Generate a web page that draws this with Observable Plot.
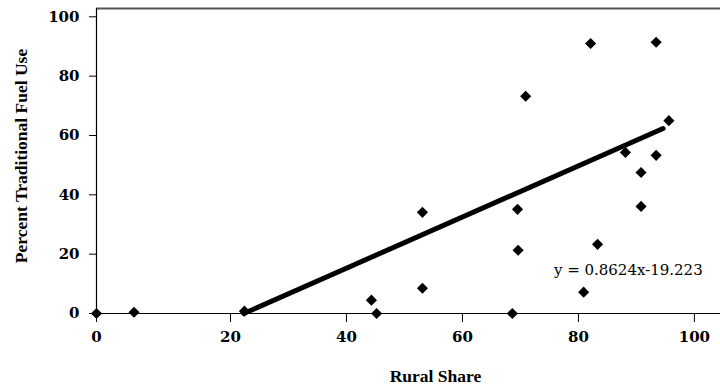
<!DOCTYPE html>
<html><head><meta charset="utf-8">
<script src="https://cdn.jsdelivr.net/npm/d3@7"></script>
<script src="https://cdn.jsdelivr.net/npm/@observablehq/plot@0.6"></script>
<style>body{margin:0;background:#fff}</style>
</head><body><div id="chart"></div>
<script>
const ruralShare      = [0, 5.6, 22.4, 44.3, 45.2, 53.1, 53.1, 68.6, 69.5, 69.6, 70.9, 80.9, 82.1, 83.3, 88.1, 90.8, 90.8, 93.4, 93.4, 95.6];
const traditionalFuel = [0, 0.4, 0.8, 4.5, 0, 34.1, 8.5, 0, 35.1, 21.3, 73.2, 7.2, 91.0, 23.3, 54.3, 47.5, 36.1, 91.4, 53.3, 65.0];
const xTicks = [0, 20, 40, 60, 80, 100];
const yTicks = [0, 20, 40, 60, 80, 100];
const slope = 0.8624, intercept = -19.223;
const trendEndX = 94.6;
const equationLabel = "y = 0.8624x-19.223";
const equationPos = {x: 88.6, y: 14.6};
const xTitle = "Rural Share";
const yTitle = "Percent Traditional Fuel Use";
const yTop = 102.8;

const data = ruralShare.map((x, i) => ({x, y: traditionalFuel[i]}));
const xStart = -intercept / slope;
const trend = [xStart, trendEndX].map(x => ({x, y: slope * x + intercept}));

const chart = Plot.plot({
  width: 720, height: 389,
  marginLeft: 96, marginRight: 0, marginTop: 8, marginBottom: 76,
  style: {fontFamily: "DejaVu Serif", fontSize: "15px", color: "#000", background: "#fff", overflow: "visible"},
  x: {type: "linear", domain: [0, 20, 104.5], range: [96, 230, 720]},
  y: {domain: [0, yTop]},
  marks: [
    Plot.ruleY([yTop], {stroke: "#555", strokeWidth: 2}),
    Plot.ruleY([0], {stroke: "#000", strokeWidth: 1.2}),
    Plot.ruleX([0], {stroke: "#000", strokeWidth: 1.2}),
    Plot.axisX({ticks: xTicks, tickSize: 9, tickPadding: 9, fontWeight: "bold", label: null, stroke: "#000"}),
    Plot.axisY({ticks: yTicks, tickSize: 7, tickPadding: 10, fontWeight: "bold", label: null, stroke: "#000"}),
    Plot.line(trend, {x: "x", y: "y", stroke: "#000", strokeWidth: 5}),
    Plot.dot(data, {x: "x", y: "y", symbol: "diamond2", r: 5, fill: "#000", stroke: "none"}),
    Plot.text([equationLabel], {x: () => equationPos.x, y: () => equationPos.y, fontSize: 15, textAnchor: "middle", fill: "#000"}),
    Plot.text([xTitle], {frameAnchor: "bottom", dx: 27, dy: 63, lineAnchor: "middle", textAnchor: "middle", fontFamily: "Liberation Serif", fontWeight: "bold", fontSize: 17.5, fill: "#000"}),
    Plot.text([yTitle], {frameAnchor: "left", dx: -75, dy: -5, rotate: -90, textAnchor: "middle", lineAnchor: "middle", fontFamily: "Liberation Serif", fontWeight: "bold", fontSize: 17.5, fill: "#000"})
  ]
});
document.getElementById("chart").append(chart);
</script>
</body></html>
